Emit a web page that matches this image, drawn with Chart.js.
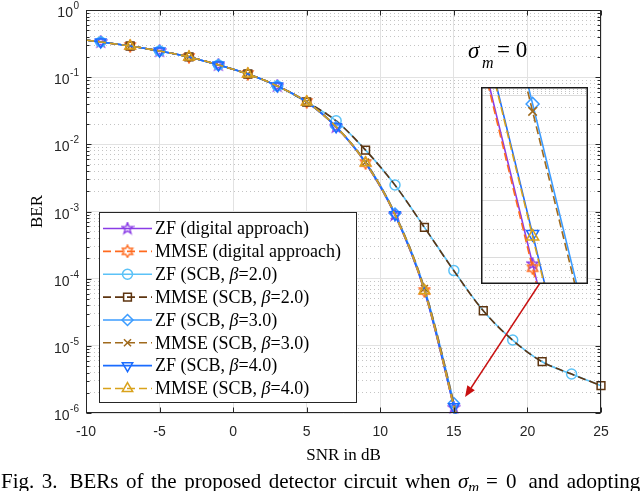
<!DOCTYPE html>
<html><head><meta charset="utf-8">
<script src="https://cdn.jsdelivr.net/npm/chart.js@4.4.1/dist/chart.umd.min.js"></script>
<style>
html,body{margin:0;padding:0;background:#fff;overflow:hidden;}
#wrap{position:relative;width:640px;height:491px;}
#main{position:absolute;left:0;top:0;}
#inset{position:absolute;left:481px;top:87px;}
</style></head><body>
<div id="wrap"><canvas id="main" width="640" height="491"></canvas><canvas id="inset" width="107" height="197"></canvas></div>
<script>
// ---------------- data ----------------
const snr = [-10,-9,-7,-5,-3,-1,1,3,5,7,9,11,13,15,17,19,21,23,25];
const berZFDigital   = [0.357,0.334,0.291,0.245,0.200,0.152,0.1115,0.0739,0.0427,0.0181,0.00527,8.87e-4,6.56e-5,1.200e-6,1.20e-8];
const berMMSEDigital = [0.357,0.334,0.291,0.245,0.200,0.152,0.1115,0.0739,0.0427,0.0181,0.00526,8.85e-4,6.54e-5,1.195e-6,1.19e-8];
const berZFb2   = [0.357,0.334,0.291,0.245,0.200,0.152,0.1115,0.0739,0.0427,0.0224,0.0082,0.00248,5.8e-4,1.32e-4,3.34e-5,1.22e-5,5.8e-6,3.8e-6,2.55e-6];
const berMMSEb2 = [0.357,0.334,0.291,0.245,0.200,0.152,0.1115,0.0739,0.0427,0.0223,0.0082,0.00247,5.8e-4,1.31e-4,3.33e-5,1.21e-5,5.8e-6,3.8e-6,2.55e-6];
const berZFb3   = [0.357,0.334,0.291,0.245,0.200,0.152,0.1115,0.0740,0.0428,0.0183,0.00545,9.3e-4,7.2e-5,1.400e-6,1.45e-8];
const berMMSEb3 = [0.357,0.334,0.291,0.245,0.200,0.152,0.1115,0.0740,0.0428,0.0183,0.00543,9.25e-4,7.15e-5,1.390e-6,1.44e-8];
const berZFb4   = [0.357,0.334,0.291,0.245,0.200,0.152,0.1115,0.0739,0.0427,0.0182,0.00532,8.95e-4,6.70e-5,1.235e-6,1.24e-8];
const berMMSEb4 = [0.357,0.334,0.291,0.245,0.200,0.152,0.1115,0.0739,0.0427,0.0182,0.00531,8.93e-4,6.68e-5,1.232e-6,1.235e-8];
const seriesNames = ['ZF (digital approach)','MMSE (digital approach)','ZF (SCB, β=2.0)','MMSE (SCB, β=2.0)','ZF (SCB, β=3.0)','MMSE (SCB, β=3.0)','ZF (SCB, β=4.0)','MMSE (SCB, β=4.0)'];
const seriesValues = [berZFDigital,berMMSEDigital,berZFb2,berMMSEb2,berZFb3,berMMSEb3,berZFb4,berMMSEb4];
const zfMarkerSNR = [-9,-5,-1,3,7,11,15,19,23];
const mmseMarkerSNR = [-7,-3,1,5,9,13,17,21,25];
const yMajorTicks = [1e-6,1e-5,1e-4,1e-3,1e-2,1e-1,1];
const yMinorTicks = [];
for (let e=-6;e<0;e++) for (let m=2;m<=9;m++) yMinorTicks.push(m*Math.pow(10,e));
const xRange = [-10,25];
const xStep = 5;
// inset (zoomed view around SNR = 15 dB)
const insetSNRRange = [14.905,15.102];
const insetBERRange = [1.177e-6,1.423e-6];
const insetGridTicks = [1.207e-6,1.275e-6,1.345e-6,1.412e-6];
const insetMinorTicks = [];
{ const all=[insetBERRange[0],...insetGridTicks,insetBERRange[1]];
  for (let i=0;i<all.length-1;i++){ const a=Math.log10(all[i]), b=Math.log10(all[i+1]);
    for (let k=1;k<=3;k++) insetMinorTicks.push(Math.pow(10,a+(b-a)*k/4)); } }
// arrow from inset to the zoomed region (data coordinates)
const arrowFrom = {snr:20.85, ber:8.6e-5};
const arrowTo = {snr:15.76, ber:1.73e-6};

// ---------------- styles ----------------
function starCanvas(color, n, size, lw){
  const c=document.createElement('canvas'); c.width=c.height=size;
  const g=c.getContext('2d'); const cx=size/2, R=size/2-lw/2-0.3, r=(n===5?0.40:0.577)*R;
  g.beginPath();
  for(let i=0;i<2*n;i++){const a=-Math.PI/2+i*Math.PI/n; const rr=i%2?r:R; g.lineTo(cx+rr*Math.cos(a), cx+rr*Math.sin(a));}
  g.closePath(); g.strokeStyle=color; g.lineWidth=lw; g.lineJoin='miter'; g.stroke(); return c;
}
const styles = [
  {color:'#8A3CE6', dash:[],    point: starCanvas('#8A3CE6',5,14,1.4), rot:0,   r:6, markers:zfMarkerSNR},
  {color:'#FF6A1E', dash:[8,4], point: starCanvas('#FF6A1E',6,14,1.4), rot:0,   r:6, markers:mmseMarkerSNR},
  {color:'#5BC2F7', dash:[],    point:'circle',   rot:0,   r:5,   markers:zfMarkerSNR},
  {color:'#5E3510', dash:[8,4], point:'rect',     rot:0,   r:5.5, markers:mmseMarkerSNR},
  {color:'#3C9CFF', dash:[],    point:'rectRot',  rot:0,   r:5.5, markers:zfMarkerSNR},
  {color:'#A06A1C', dash:[8,4], point:'crossRot', rot:0,   r:5,   markers:mmseMarkerSNR},
  {color:'#1A6CFF', dash:[],    point:'triangle', rot:180, r:6,   markers:zfMarkerSNR},
  {color:'#D9A21B', dash:[8,4], point:'triangle', rot:0,   r:6,   markers:mmseMarkerSNR}
];
const n = seriesValues.length;
function buildDatasets(inset){
  return seriesValues.map((vals,i)=>{
    const s=styles[i];
    return {
      label: seriesNames[i],
      data: vals.map((v,j)=>({x:snr[j], y:v})),
      borderColor:s.color, borderWidth:1.6, borderDash:s.dash,
      pointStyle:s.point, pointRotation:s.rot,
      pointRadius: ctx => (inset ? s.r+1 : ((ctx.raw && !s.markers.includes(ctx.raw.x)) ? 0 : s.r)),
      pointBorderColor:s.color, pointBackgroundColor:'rgba(0,0,0,0)', pointBorderWidth:1.5,
      cubicInterpolationMode:'monotone', fill:false, order:n-1-i,
      clip: inset ? 0 : {left:0, top:0, right:8, bottom:1}
    };
  });
}
const AX='#262626';
const SANS='"Liberation Sans", Arial, Helvetica, sans-serif';
const SERIF='"Liberation Serif", "Times New Roman", serif';

function drawPt(ctx, opts, x, y){
  if (Chart.helpers && Chart.helpers.drawPoint){ Chart.helpers.drawPoint(ctx, opts, x, y); return; }
}

const decor = {
  id:'decor',
  beforeDraw(chart){ const c=chart.ctx; c.save(); c.fillStyle='#fff'; c.fillRect(0,0,chart.width,chart.height); c.restore(); },
  afterDatasetsDraw(chart){
    const ctx=chart.ctx, a=chart.chartArea, xs=chart.scales.x, ys=chart.scales.y;
    ctx.save();
    // inward ticks
    ctx.strokeStyle=AX; ctx.lineWidth=1;
    const L=Math.round(a.left)+0.5, R=Math.round(a.right)-0.5, T=Math.round(a.top)+0.5, B=Math.round(a.bottom)-0.5;
    ctx.beginPath();
    yMajorTicks.forEach(v=>{const p=Math.round(ys.getPixelForValue(v))+0.5; ctx.moveTo(L,p);ctx.lineTo(L+5,p);ctx.moveTo(R,p);ctx.lineTo(R-5,p);});
    yMinorTicks.forEach(v=>{const p=Math.round(ys.getPixelForValue(v))+0.5; ctx.moveTo(L,p);ctx.lineTo(L+3,p);ctx.moveTo(R,p);ctx.lineTo(R-3,p);});
    for(let v=xRange[0]; v<=xRange[1]; v+=xStep){const p=Math.round(xs.getPixelForValue(v))+0.5; ctx.moveTo(p,B);ctx.lineTo(p,B-5);ctx.moveTo(p,T);ctx.lineTo(p,T+5);}
    ctx.stroke();
    ctx.strokeRect(L,T,R-L,B-T);
    // y tick labels 10^k
    ctx.fillStyle=AX;
    yMajorTicks.forEach(v=>{
      const p=ys.getPixelForValue(v); const e=Math.round(Math.log10(v));
      const es = e===0 ? '0' : '-'+(-e);
      ctx.font='10px '+SANS; const ew=ctx.measureText(es).width;
      ctx.textAlign='left'; ctx.textBaseline='alphabetic';
      ctx.fillText(es, 79-ew, p-1);
      ctx.font='14px '+SANS; ctx.textAlign='right';
      ctx.fillText('10', 79-ew-0.5, p+7);
    });
    // arrow
    const x1=xs.getPixelForValue(arrowFrom.snr), y1=ys.getPixelForValue(arrowFrom.ber);
    const x2=xs.getPixelForValue(arrowTo.snr), y2=ys.getPixelForValue(arrowTo.ber);
    const ang=Math.atan2(y2-y1,x2-x1), hl=11, hw=4.5;
    ctx.strokeStyle='#C81010'; ctx.fillStyle='#C81010'; ctx.lineWidth=1.6;
    ctx.beginPath(); ctx.moveTo(x1,y1); ctx.lineTo(x2-Math.cos(ang)*hl, y2-Math.sin(ang)*hl); ctx.stroke();
    ctx.beginPath(); ctx.moveTo(x2,y2);
    ctx.lineTo(x2-Math.cos(ang)*hl-Math.sin(ang)*hw, y2-Math.sin(ang)*hl+Math.cos(ang)*hw);
    ctx.lineTo(x2-Math.cos(ang)*hl+Math.sin(ang)*hw, y2-Math.sin(ang)*hl-Math.cos(ang)*hw);
    ctx.closePath(); ctx.fill();
    // sigma_m = 0 annotation
    ctx.fillStyle='#000'; ctx.textAlign='left'; ctx.textBaseline='alphabetic';
    ctx.font='italic 23px '+SERIF; ctx.fillText('σ',468,58);
    ctx.font='italic 16px '+SERIF; ctx.fillText('m',482,68);
    ctx.font='23px '+SERIF; ctx.fillText('= 0',497,57);
    // legend
    const lx0=99.5, ly0=212.5, lx1=356.5, ly1=402.5;
    ctx.fillStyle='#fff'; ctx.fillRect(lx0,ly0,lx1-lx0,ly1-ly0);
    ctx.strokeStyle=AX; ctx.lineWidth=1; ctx.strokeRect(lx0,ly0,lx1-lx0,ly1-ly0);
    chart.data.datasets.forEach((ds,i)=>{
      const s=styles[i]; const y=228.5+i*22.86;
      ctx.save();
      ctx.strokeStyle=s.color; ctx.lineWidth=1.6; ctx.setLineDash(s.dash);
      ctx.beginPath(); ctx.moveTo(103,y); ctx.lineTo(152,y); ctx.stroke(); ctx.setLineDash([]);
      ctx.fillStyle='rgba(0,0,0,0)'; ctx.strokeStyle=s.color; ctx.lineWidth=1.5;
      drawPt(ctx,{pointStyle:s.point, rotation:s.rot, radius:s.r, borderWidth:1.5},127.5,y);
      ctx.restore();
      // label with italic beta
      ctx.fillStyle='#000'; ctx.textBaseline='middle'; ctx.textAlign='left';
      let x=155; const parts=ds.label.split('β');
      parts.forEach((p,k)=>{
        if(k>0){ctx.font='italic 18px '+SERIF; ctx.fillText('β',x,y+1); x+=ctx.measureText('β').width;}
        ctx.font='18px '+SERIF; ctx.fillText(p,x,y+1); x+=ctx.measureText(p).width;
      });
    });
    // caption (justified line, cut at the right edge)
    ctx.fillStyle='#000'; ctx.textBaseline='alphabetic'; ctx.textAlign='left';
    ctx.font='21px '+SERIF;
    const words1=['Fig.','3.','BERs','of','the','proposed','detector','circuit','when'];
    let cx=1;
    words1.forEach((w,k)=>{ ctx.fillText(w,cx,488); cx+=ctx.measureText(w).width+(k===1?12:7.5); });
    ctx.font='italic 21px '+SERIF; ctx.fillText('σ',cx,488); cx+=ctx.measureText('σ').width;
    ctx.font='italic 15px '+SERIF; ctx.fillText('m',cx,492); cx+=ctx.measureText('m').width+7;
    ctx.font='21px '+SERIF; ctx.fillText('=',cx,488); cx+=ctx.measureText('=').width+8;
    ['0','and','adopting'].forEach((w,k)=>{ ctx.fillText(w,cx,488); cx+=ctx.measureText(w).width+(k===0?12:8); });
    ctx.restore();
  }
};

new Chart(document.getElementById('main'), {
  type:'line',
  data:{datasets:buildDatasets(false)},
  options:{
    responsive:false, animation:false, events:[],
    layout:{padding:{left:0,top:10,right:39,bottom:0}, autoPadding:false},
    plugins:{legend:{display:false}, tooltip:{enabled:false}},
    scales:{
      x:{type:'linear', min:xRange[0], max:xRange[1],
         ticks:{stepSize:xStep, font:{family:SANS,size:14}, color:AX, padding:11, maxRotation:0, autoSkip:false},
         grid:{color:'#e2e2e2', lineWidth:1, drawTicks:false}, border:{display:false},
         title:{display:true, text:'SNR in dB', font:{family:SERIF,size:17}, color:'#000', padding:{top:0,bottom:25}},
         afterFit:s=>{s.height=78;}},
      y:{type:'logarithmic', position:'left', min:1e-6, max:1,
         ticks:{display:false}, grid:{color:'#e2e2e2', lineWidth:1, drawTicks:false}, border:{display:false},
         title:{display:true, text:'BER', font:{family:SERIF,size:17}, color:'#000', padding:{top:27,bottom:0}},
         afterBuildTicks:s=>{s.ticks=yMajorTicks.map(v=>({value:v}));},
         afterFit:s=>{s.width=86;}},
      yMinor:{type:'logarithmic', position:'left', min:1e-6, max:1,
         ticks:{display:false}, grid:{color:'#c4c4c4', lineWidth:1, drawTicks:false}, border:{display:false, dash:[1,3]},
         afterBuildTicks:s=>{s.ticks=yMinorTicks.map(v=>({value:v}));},
         afterFit:s=>{s.width=0;}}
    }
  },
  plugins:[decor]
});

const insetDecor = {
  id:'insetDecor',
  beforeDraw(chart){ const c=chart.ctx; c.save(); c.fillStyle='#fff'; c.fillRect(0,0,chart.width,chart.height); c.restore(); },
  afterDraw(chart){ const c=chart.ctx; c.save(); c.strokeStyle='#1a1a1a'; c.lineWidth=1.5; c.strokeRect(0.75,0.75,chart.width-1.5,chart.height-1.5); c.restore(); }
};
new Chart(document.getElementById('inset'), {
  type:'line',
  data:{datasets:buildDatasets(true)},
  options:{
    responsive:false, animation:false, events:[],
    layout:{padding:0, autoPadding:false},
    plugins:{legend:{display:false}, tooltip:{enabled:false}},
    scales:{
      x:{type:'linear', min:insetSNRRange[0], max:insetSNRRange[1], display:false},
      y:{type:'logarithmic', position:'left', min:insetBERRange[0], max:insetBERRange[1],
         ticks:{display:false}, grid:{color:'#dcdcdc', lineWidth:1, drawTicks:false}, border:{display:false},
         afterBuildTicks:s=>{s.ticks=insetGridTicks.map(v=>({value:v}));}, afterFit:s=>{s.width=0;}},
      yMinor:{type:'logarithmic', position:'left', min:insetBERRange[0], max:insetBERRange[1],
         ticks:{display:false}, grid:{color:'#c4c4c4', lineWidth:1, drawTicks:false}, border:{display:false, dash:[1,3]},
         afterBuildTicks:s=>{s.ticks=insetMinorTicks.map(v=>({value:v}));}, afterFit:s=>{s.width=0;}}
    }
  },
  plugins:[insetDecor]
});
</script>
</body></html>
